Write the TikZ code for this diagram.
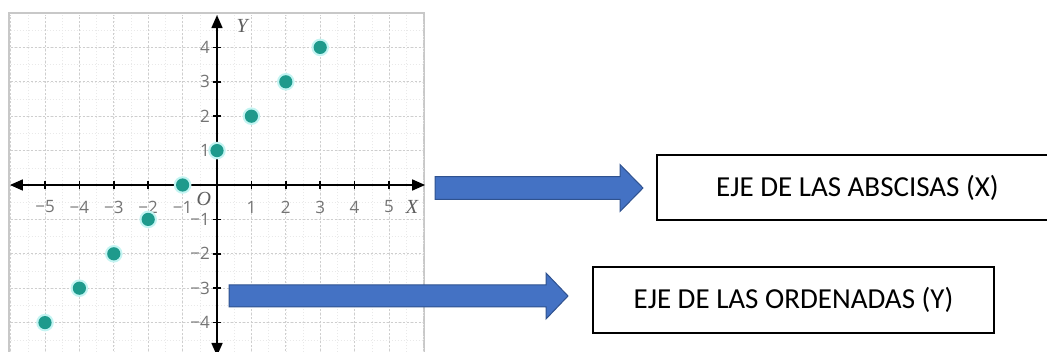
\documentclass[tikz,border=0pt]{standalone}
\usepackage{fontspec}
\newfontfamily\boxfont{Carlito}
\newfontfamily\tickfont{Open Sans}
\newfontfamily\axisfont{Liberation Serif}
\usetikzlibrary{arrows.meta,calc}
\definecolor{dotteal}{HTML}{1E9A8C}
\definecolor{halo}{HTML}{C4F4F2}
\definecolor{arrowblue}{HTML}{4472C4}
\definecolor{arrowedge}{HTML}{2F528F}
\definecolor{gridgray}{HTML}{C8C8C8}
\definecolor{ticklabel}{HTML}{747474}
\tikzset{
  labelbox/.style={draw=black, line width=2pt, fill=white, minimum width=401pt,
    inner sep=0pt, font=\boxfont\fontsize{29}{34}\selectfont, text=black},
  blockarrow/.style={fill=arrowblue, draw=arrowedge, line width=1pt},
  tklabel/.style={font=\tickfont\fontsize{17}{19}\selectfont, text=ticklabel, inner sep=0pt},
  axislabel/.style={font=\axisfont\itshape\fontsize{20}{21}\selectfont, text=ticklabel!80!black, inner sep=0pt},
  axisline/.style={line width=1.7pt, black, {Triangle[length=13pt,width=11pt]}-{Triangle[length=13pt,width=11pt]}},
  tickmark/.style={line width=1.7pt, black},
}
\begin{document}
\begin{tikzpicture}[x=1pt,y=-1pt]
\useasboundingbox (0,0) rectangle (1047,352);
\begin{scope}
\clip (0,0) rectangle (1047,352);
% frame of the graph
\draw[gridgray, line width=2pt] (9,13) rectangle (424,380);
\begin{scope}[shift={(217,185)}, x=34.4pt, y=34.4pt]
  % minor grid
  \draw[gridgray!40, line width=0.5pt, dash pattern=on 1.5pt off 1.5pt]
    (-6.0,-5.3) grid[step=0.5] (6.0,4.95);
  % major grid
  \draw[gridgray!90, line width=0.9pt, dash pattern=on 2pt off 2pt]
    (-6.0,-5.3) grid[step=1] (6.0,4.95);
  % axes
  \draw[axisline] (-6.02,0) -- (6.05,0);
  \draw[axisline] (0,-4.97) -- (0,4.94);
  % ticks and labels
  \foreach \v in {-5,-4,-3,-2,-1,1,2,3,4,5} {
    \draw[tickmark] (\v,-0.12) -- (\v,0.12);
  }
  \foreach \v in {-4,-3,-2,-1,1,2,3,4} {
    \draw[tickmark] (-0.12,\v) -- (0.12,\v);
  }
  \foreach \v in {-5,-4,-3,-2,-1} {
    \node[tklabel] at (\v,-0.64) {−\the\numexpr-\v\relax};
  }
  \foreach \v in {1,2,3,4,5} {
    \node[tklabel] at (\v,-0.64) {\v};
  }
  \foreach \v in {-4,-3,-2,-1} {
    \node[tklabel, anchor=east] at (-0.2,\v) {−\the\numexpr-\v\relax};
  }
  \foreach \v in {1,2,3,4} {
    \node[tklabel, anchor=east] at (-0.2,\v) {\v};
  }
  \node[axislabel] (xlab) at (5.67,-0.64) {X};
  \node[axislabel] (ylab) at (0.73,4.62) {Y};
  \node[axislabel] (olab) at (-0.38,-0.41) {O};
  % points
  \foreach \i in {-5,-4,-3,-2,-1,0,1,2,3} {
    \fill[halo] (\i,\i+1) circle (8.8pt);
    \fill[dotteal] (\i,\i+1) circle (6.6pt);
  }
\end{scope}
% label boxes
\node[labelbox, minimum height=65pt] (abscisas) at (857.5,187.5) {EJE DE LAS ABSCISAS (X)};
\node[labelbox, minimum height=66pt] (ordenadas) at (793.5,300) {EJE DE LAS ORDENADAS (Y)};
% block arrows (start on the graph, tip just before the box)
\coordinate (a1s) at (435,188);
\coordinate (a1t) at ($(a1s -| abscisas.west)+(-13,0)$);
\coordinate (a2s) at (229,296);
\coordinate (a2t) at ($(a2s -| ordenadas.west)+(-24,0)$);
\draw[blockarrow] ($(a1s)+(0,-11.3)$) -- ($(a1t)+(-23,-11.3)$)
  -- ($(a1t)+(-23,-23.5)$) -- (a1t)
  -- ($(a1t)+(-23,23.5)$) -- ($(a1t)+(-23,11.3)$)
  -- ($(a1s)+(0,11.3)$) -- cycle;
\draw[blockarrow] ($(a2s)+(0,-11)$) -- ($(a2t)+(-22,-11)$)
  -- ($(a2t)+(-22,-23)$) -- (a2t)
  -- ($(a2t)+(-22,23)$) -- ($(a2t)+(-22,11)$)
  -- ($(a2s)+(0,11)$) -- cycle;
\end{scope}
\end{tikzpicture}
\end{document}
